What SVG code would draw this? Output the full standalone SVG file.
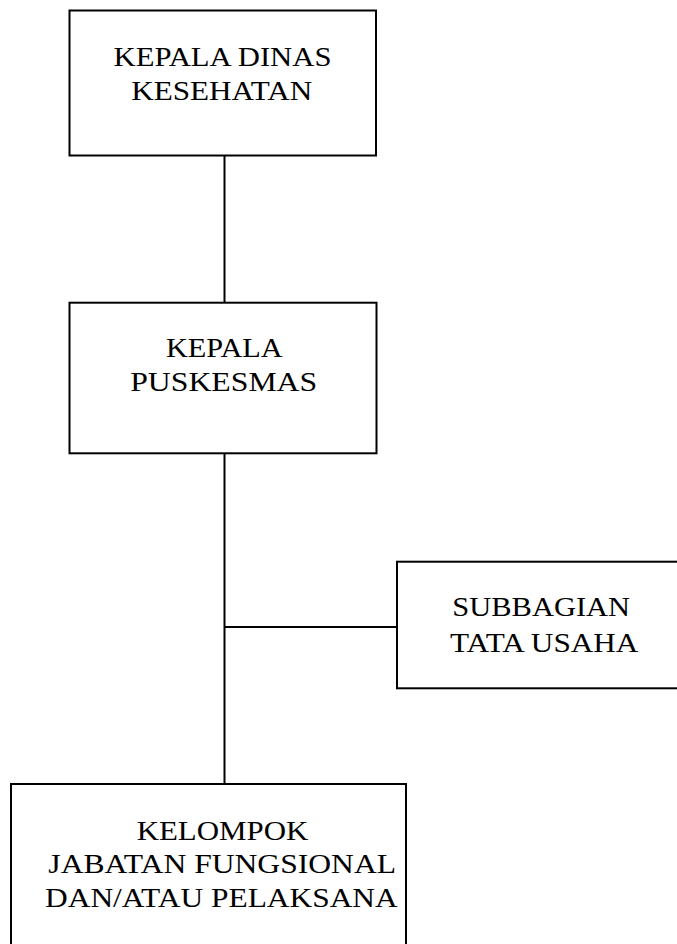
<svg xmlns="http://www.w3.org/2000/svg" width="677" height="944" viewBox="0 0 677 944">
<style>
.box{fill:#fff;stroke:#000;stroke-width:2}
.ln{stroke:#000;stroke-width:2;fill:none}
text{font-family:"Liberation Serif","DejaVu Serif",serif;font-size:26.5px;fill:#000;text-anchor:middle}
</style>
<rect width="677" height="944" fill="#fff"/>
<g id="connectors">
<line class="ln" x1="224.5" y1="155" x2="224.5" y2="303"/>
<line class="ln" x1="224.5" y1="453" x2="224.5" y2="784"/>
<line class="ln" x1="224.5" y1="627" x2="397" y2="627"/>
</g>
<g id="kepala-dinas">
<rect class="box" x="69.5" y="10.5" width="306.5" height="145"/>
<text x="222.5" y="65.5" textLength="218" lengthAdjust="spacingAndGlyphs">KEPALA DINAS</text>
<text x="221.7" y="100" textLength="181" lengthAdjust="spacingAndGlyphs">KESEHATAN</text>
</g>
<g id="kepala-puskesmas">
<rect class="box" x="69.5" y="302.7" width="307" height="150.6"/>
<text x="224.3" y="356.7" textLength="116.7" lengthAdjust="spacingAndGlyphs">KEPALA</text>
<text x="223.7" y="391" textLength="187" lengthAdjust="spacingAndGlyphs">PUSKESMAS</text>
</g>
<g id="subbagian">
<rect class="box" x="397" y="561.7" width="300" height="126.6"/>
<text x="541.2" y="615.7" textLength="177.7" lengthAdjust="spacingAndGlyphs">SUBBAGIAN</text>
<text x="544.2" y="651.7" textLength="188.3" lengthAdjust="spacingAndGlyphs">TATA USAHA</text>
</g>
<g id="kelompok">
<rect class="box" x="11" y="784" width="395" height="180"/>
<text x="222.5" y="840" textLength="171.7" lengthAdjust="spacingAndGlyphs">KELOMPOK</text>
<text x="222.2" y="873.3" textLength="347.7" lengthAdjust="spacingAndGlyphs">JABATAN FUNGSIONAL</text>
<text x="221.4" y="907.3" textLength="352.7" lengthAdjust="spacingAndGlyphs">DAN/ATAU PELAKSANA</text>
</g>
</svg>
